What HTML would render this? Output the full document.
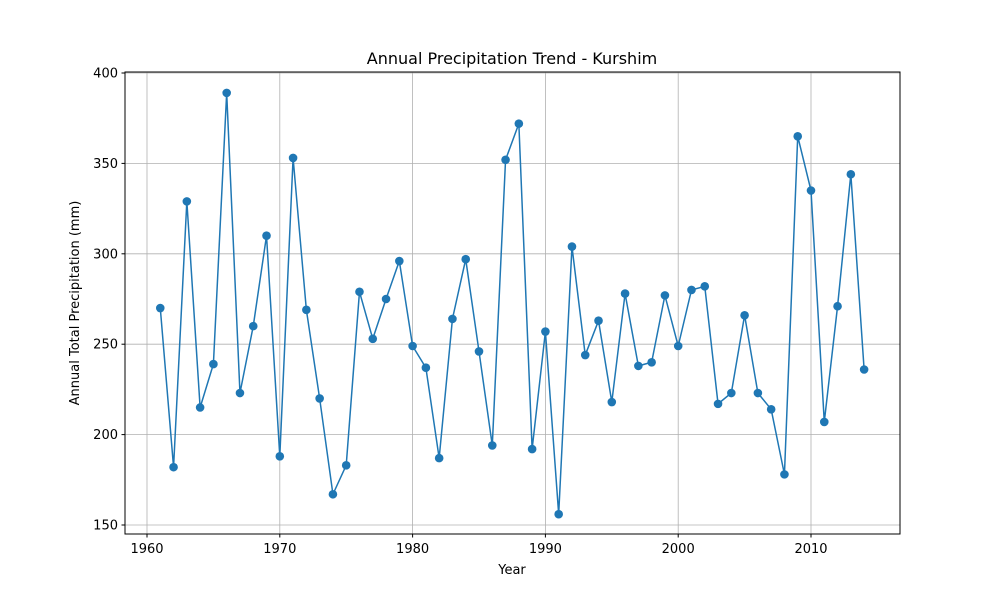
<!DOCTYPE html>
<html><head><meta charset="utf-8"><style>
body{margin:0;background:#fff;}
svg text{font-family:"DejaVu Sans","Liberation Sans",sans-serif;}
</style></head><body>
<svg id="chart" width="1000" height="600" xmlns="http://www.w3.org/2000/svg">
<rect x="0" y="0" width="1000" height="600" fill="#fff"/>
<g id="grid"></g>
<g id="series"></g>
<rect x="125" y="72" width="775" height="462" fill="none" stroke="#000" stroke-width="1"/>
<g id="xticks"></g><g id="yticks"></g>
<text x="512" y="64" text-anchor="middle" font-size="16">Annual Precipitation Trend - Kurshim</text>
<text x="512" y="574" text-anchor="middle" font-size="13">Year</text>
<text x="79" y="303" text-anchor="middle" font-size="13" transform="rotate(-90 79 303)">Annual Total Precipitation (mm)</text>
</svg>
<script>
const years=[];for(let y=1961;y<=2014;y++)years.push(y);
const precip=[270,182,329,215,239,389,223,260,310,188,353,269,220,167,183,279,253,275,296,249,237,187,264,297,246,194,352,372,192,257,156,304,244,263,218,278,238,240,277,249,280,282,217,223,266,223,214,178,365,335,207,271,344,236];
const xTicks=[1960,1970,1980,1990,2000,2010];
const yTicks=[150,200,250,300,350,400];
const NS="http://www.w3.org/2000/svg";
function X(v){return 147+(v-1960)*(811-147)/50;}
function Y(v){return 525-(v-150)*(525-73)/250;}
function mk(t,a,p){const e=document.createElementNS(NS,t);for(const k in a)e.setAttribute(k,a[k]);p.appendChild(e);return e;}
const grid=document.getElementById('grid'),xt=document.getElementById('xticks'),yt=document.getElementById('yticks'),ser=document.getElementById('series');
xTicks.forEach(v=>{const x=X(v);
 const g=mk('line',{x1:x,x2:x,y1:72,y2:534,stroke:'#b0b0b0','stroke-width':0.8},grid);
 
 
 mk('line',{x1:x,x2:x,y1:534,y2:537.5,stroke:'#000'},xt);
 const t=mk('text',{x:x,y:553,'text-anchor':'middle','font-size':13},xt);t.textContent=v;
 
 });
yTicks.forEach(v=>{const y=Y(v);
 const g=mk('line',{x1:125,x2:900,y1:y,y2:y,stroke:'#b0b0b0','stroke-width':0.8},grid);
 
 
 mk('line',{x1:121.5,x2:125,y1:y,y2:y,stroke:'#000'},yt);
 const t=mk('text',{x:118,y:y+4.5,'text-anchor':'end','font-size':13},yt);t.textContent=v;
 
 });
const pts=years.map((y,i)=>X(y)+','+Y(precip[i])).join(' ');
const line=mk('polyline',{points:pts,fill:'none',stroke:'#1f77b4','stroke-width':1.5},ser);


years.forEach((y,i)=>{const c=mk('circle',{cx:X(y),cy:Y(precip[i]),r:4.3,fill:'#1f77b4'},ser);
 
 });
</script>
</body></html>
